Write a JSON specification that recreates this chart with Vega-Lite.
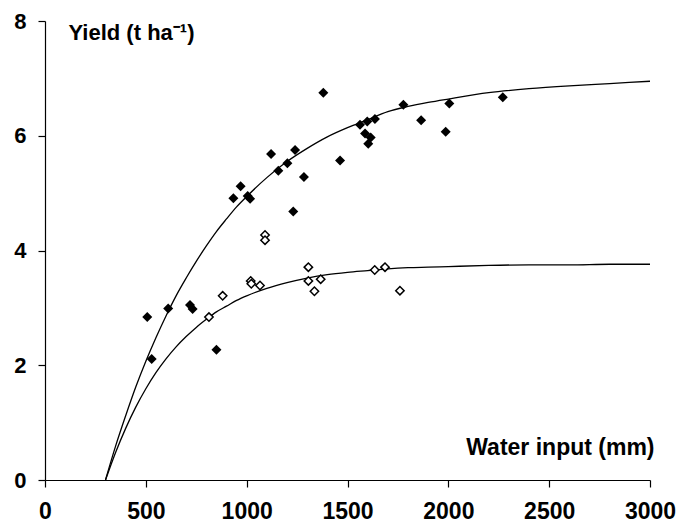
{
  "$schema": "https://vega.github.io/schema/vega-lite/v6.json",
  "width": 605,
  "height": 459,
  "autosize": {"type": "none"},
  "padding": {"left": 45, "top": 21, "right": 28, "bottom": 47},
  "background": "white",
  "config": {"view": {"stroke": null}, "font": "Liberation Sans"},
  "datasets": {
    "obs": [
      {"water": 507, "yield": 2.84, "type": "filled"},
      {"water": 529, "yield": 2.11, "type": "filled"},
      {"water": 611, "yield": 2.99, "type": "filled"},
      {"water": 719, "yield": 3.05, "type": "filled"},
      {"water": 732, "yield": 2.98, "type": "filled"},
      {"water": 850, "yield": 2.27, "type": "filled"},
      {"water": 934, "yield": 4.91, "type": "filled"},
      {"water": 970, "yield": 5.12, "type": "filled"},
      {"water": 1005, "yield": 4.95, "type": "filled"},
      {"water": 1017, "yield": 4.9, "type": "filled"},
      {"water": 1121, "yield": 5.68, "type": "filled"},
      {"water": 1157, "yield": 5.39, "type": "filled"},
      {"water": 1202, "yield": 5.52, "type": "filled"},
      {"water": 1231, "yield": 4.68, "type": "filled"},
      {"water": 1240, "yield": 5.75, "type": "filled"},
      {"water": 1284, "yield": 5.28, "type": "filled"},
      {"water": 1380, "yield": 6.75, "type": "filled"},
      {"water": 1463, "yield": 5.57, "type": "filled"},
      {"water": 1562, "yield": 6.19, "type": "filled"},
      {"water": 1598, "yield": 6.25, "type": "filled"},
      {"water": 1636, "yield": 6.29, "type": "filled"},
      {"water": 1587, "yield": 6.04, "type": "filled"},
      {"water": 1615, "yield": 5.97, "type": "filled"},
      {"water": 1603, "yield": 5.86, "type": "filled"},
      {"water": 1777, "yield": 6.54, "type": "filled"},
      {"water": 1865, "yield": 6.27, "type": "filled"},
      {"water": 1987, "yield": 6.07, "type": "filled"},
      {"water": 2005, "yield": 6.56, "type": "filled"},
      {"water": 2270, "yield": 6.67, "type": "filled"},
      {"water": 813, "yield": 2.84, "type": "open"},
      {"water": 881, "yield": 3.21, "type": "open"},
      {"water": 1020, "yield": 3.47, "type": "open"},
      {"water": 1023, "yield": 3.42, "type": "open"},
      {"water": 1066, "yield": 3.39, "type": "open"},
      {"water": 1091, "yield": 4.27, "type": "open"},
      {"water": 1091, "yield": 4.18, "type": "open"},
      {"water": 1306, "yield": 3.71, "type": "open"},
      {"water": 1306, "yield": 3.47, "type": "open"},
      {"water": 1336, "yield": 3.29, "type": "open"},
      {"water": 1367, "yield": 3.5, "type": "open"},
      {"water": 1635, "yield": 3.66, "type": "open"},
      {"water": 1686, "yield": 3.71, "type": "open"},
      {"water": 1760, "yield": 3.3, "type": "open"}
    ],
    "fit": [
      {"series": "upper", "water": 300, "yield": 0},
      {"series": "upper", "water": 350, "yield": 0.59},
      {"series": "upper", "water": 400, "yield": 1.12},
      {"series": "upper", "water": 450, "yield": 1.62},
      {"series": "upper", "water": 500, "yield": 2.07},
      {"series": "upper", "water": 550, "yield": 2.48},
      {"series": "upper", "water": 600, "yield": 2.86},
      {"series": "upper", "water": 650, "yield": 3.21},
      {"series": "upper", "water": 700, "yield": 3.52},
      {"series": "upper", "water": 750, "yield": 3.81},
      {"series": "upper", "water": 800, "yield": 4.08},
      {"series": "upper", "water": 850, "yield": 4.33},
      {"series": "upper", "water": 900, "yield": 4.55},
      {"series": "upper", "water": 950, "yield": 4.76},
      {"series": "upper", "water": 1000, "yield": 4.94},
      {"series": "upper", "water": 1100, "yield": 5.27},
      {"series": "upper", "water": 1200, "yield": 5.55},
      {"series": "upper", "water": 1300, "yield": 5.78},
      {"series": "upper", "water": 1400, "yield": 5.98},
      {"series": "upper", "water": 1500, "yield": 6.14},
      {"series": "upper", "water": 1600, "yield": 6.28},
      {"series": "upper", "water": 1700, "yield": 6.42},
      {"series": "upper", "water": 1800, "yield": 6.51},
      {"series": "upper", "water": 1900, "yield": 6.58},
      {"series": "upper", "water": 2000, "yield": 6.64},
      {"series": "upper", "water": 2200, "yield": 6.75},
      {"series": "upper", "water": 2400, "yield": 6.82},
      {"series": "upper", "water": 2600, "yield": 6.87},
      {"series": "upper", "water": 2800, "yield": 6.91},
      {"series": "upper", "water": 3000, "yield": 6.95},
      {"series": "lower", "water": 300, "yield": 0},
      {"series": "lower", "water": 350, "yield": 0.48},
      {"series": "lower", "water": 400, "yield": 0.9},
      {"series": "lower", "water": 450, "yield": 1.27},
      {"series": "lower", "water": 500, "yield": 1.59},
      {"series": "lower", "water": 550, "yield": 1.87},
      {"series": "lower", "water": 600, "yield": 2.11},
      {"series": "lower", "water": 650, "yield": 2.32},
      {"series": "lower", "water": 700, "yield": 2.5},
      {"series": "lower", "water": 750, "yield": 2.66},
      {"series": "lower", "water": 800, "yield": 2.8},
      {"series": "lower", "water": 850, "yield": 2.93},
      {"series": "lower", "water": 900, "yield": 3.03},
      {"series": "lower", "water": 950, "yield": 3.13},
      {"series": "lower", "water": 1000, "yield": 3.21},
      {"series": "lower", "water": 1100, "yield": 3.34},
      {"series": "lower", "water": 1200, "yield": 3.44},
      {"series": "lower", "water": 1300, "yield": 3.52},
      {"series": "lower", "water": 1400, "yield": 3.58},
      {"series": "lower", "water": 1500, "yield": 3.62},
      {"series": "lower", "water": 1600, "yield": 3.65},
      {"series": "lower", "water": 1700, "yield": 3.68},
      {"series": "lower", "water": 1800, "yield": 3.7},
      {"series": "lower", "water": 1900, "yield": 3.71},
      {"series": "lower", "water": 2000, "yield": 3.72},
      {"series": "lower", "water": 2200, "yield": 3.74},
      {"series": "lower", "water": 2400, "yield": 3.75},
      {"series": "lower", "water": 2600, "yield": 3.75},
      {"series": "lower", "water": 2800, "yield": 3.76},
      {"series": "lower", "water": 3000, "yield": 3.76}
    ]
  },
  "encoding": {
    "x": {
      "field": "water",
      "type": "quantitative",
      "scale": {"domain": [0, 3000], "nice": false, "zero": true},
      "axis": {
        "title": "Water input (mm)",
        "values": [0, 500, 1000, 1500, 2000, 2500, 3000],
        "format": "d",
        "grid": false,
        "domainColor": "black",
        "domainWidth": 1.2,
        "tickColor": "black",
        "tickWidth": 1.2,
        "tickSize": 7,
        "labelFont": "Liberation Sans",
        "labelFontSize": 23,
        "labelFontWeight": "bold",
        "labelColor": "black",
        "labelPadding": 13,
        "labelFlush": false,
        "labelOverlap": false,
        "labelBound": false,
        "titleFont": "Liberation Sans",
        "titleFontSize": 23,
        "titleFontWeight": "bold",
        "titleColor": "black",
        "titleAnchor": null,
        "titleX": 609,
        "titleY": -26,
        "titleAlign": "right",
        "titleBaseline": "alphabetic"
      }
    },
    "y": {
      "field": "yield",
      "type": "quantitative",
      "scale": {"domain": [0, 8], "nice": false},
      "axis": {
        "title": "Yield (t ha⁻¹)",
        "values": [0, 2, 4, 6, 8],
        "grid": false,
        "domainColor": "black",
        "domainWidth": 1.2,
        "tickColor": "black",
        "tickWidth": 1.2,
        "tickSize": 7,
        "labelFont": "Liberation Sans",
        "labelFontSize": 22,
        "labelFontWeight": "bold",
        "labelColor": "black",
        "labelPadding": 12,
        "labelFlush": false,
        "labelOverlap": false,
        "titleFont": "Liberation Sans",
        "titleFontSize": 22,
        "titleFontWeight": "bold",
        "titleColor": "black",
        "titleAngle": 0,
        "titleAnchor": null,
        "titleX": 23,
        "titleY": 18,
        "titleAlign": "left",
        "titleBaseline": "alphabetic"
      }
    }
  },
  "layer": [
    {
      "data": {"name": "fit"},
      "mark": {"type": "line", "color": "black", "strokeWidth": 1.3, "interpolate": "monotone"},
      "encoding": {"detail": {"field": "series", "type": "nominal"}}
    },
    {
      "data": {"name": "obs"},
      "transform": [{"filter": "datum.type == 'filled'"}],
      "mark": {"type": "point", "shape": "diamond", "filled": true, "color": "black", "size": 100, "opacity": 1},
      "encoding": {}
    },
    {
      "data": {"name": "obs"},
      "transform": [{"filter": "datum.type == 'open'"}],
      "mark": {"type": "point", "shape": "diamond", "fill": "white", "stroke": "black", "strokeWidth": 1.5, "size": 70, "opacity": 1, "fillOpacity": 1},
      "encoding": {}
    }
  ]
}
